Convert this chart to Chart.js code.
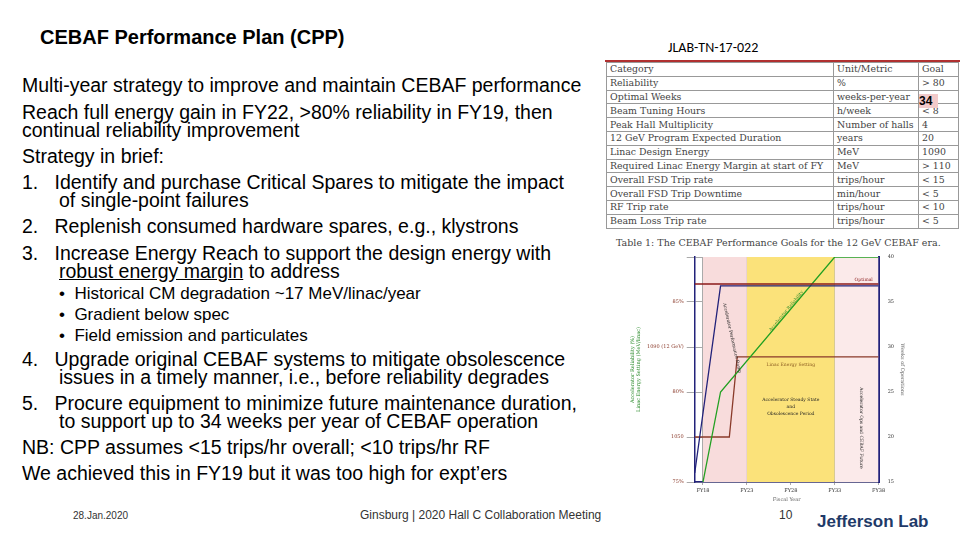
<!DOCTYPE html>
<html><head><meta charset="utf-8">
<script src="https://cdn.jsdelivr.net/npm/chart.js@4/dist/chart.umd.min.js"></script>
<style>
body{margin:0;width:960px;height:540px;background:#fff;position:relative;overflow:hidden;font-family:"Liberation Sans",Arial,sans-serif}
.a{position:absolute;white-space:nowrap}
#body div{position:absolute;white-space:nowrap;font-size:19.5px;line-height:19px;color:#000}
table{position:absolute;left:606px;top:62px;border-collapse:collapse;font-family:"DejaVu Serif",serif;font-size:9.4px;color:#444}
td{border:1px solid #999;padding:0 3px;height:12.8px;line-height:12px}
#cw{position:absolute;left:628px;top:251px;width:279px;height:252px}
</style></head><body>
<div class="a" style="left:40px;top:26px;font-size:20px;font-weight:bold">CEBAF Performance Plan (CPP)</div>
<div class="a" style="left:668px;top:39px;font-size:14px;font-family:Carlito,'Liberation Sans'">JLAB-TN-17-022</div>
<div id="body">
<div style="left:22px;top:76px">Multi-year strategy to improve and maintain CEBAF performance</div>
<div style="left:22px;top:103px">Reach full energy gain in FY22, &gt;80% reliability in FY19, then</div>
<div style="left:22px;top:121px">continual reliability improvement</div>
<div style="left:22px;top:147px">Strategy in brief:</div>
<div style="left:22px;top:173px">1.&nbsp;&nbsp; Identify and purchase Critical Spares to mitigate the impact</div>
<div style="left:59px;top:191px">of single-point failures</div>
<div style="left:22px;top:217px">2.&nbsp;&nbsp; Replenish consumed hardware spares, e.g., klystrons</div>
<div style="left:22px;top:244px">3.&nbsp;&nbsp; Increase Energy Reach to support the design energy with</div>
<div style="left:59px;top:262px"><u>robust energy margin</u> to address</div>
<div style="left:59px;top:284px;font-size:17px">•&nbsp; Historical CM degradation ~17 MeV/linac/year</div>
<div style="left:59px;top:305px;font-size:17px">•&nbsp; Gradient below spec</div>
<div style="left:59px;top:326px;font-size:17px">•&nbsp; Field emission and particulates</div>
<div style="left:22px;top:350px">4.&nbsp;&nbsp; Upgrade original CEBAF systems to mitigate obsolescence</div>
<div style="left:59px;top:368px">issues in a timely manner, i.e., before reliability degrades</div>
<div style="left:22px;top:394px">5.&nbsp;&nbsp; Procure equipment to minimize future maintenance duration,</div>
<div style="left:59px;top:412px">to support up to 34 weeks per year of CEBAF operation</div>
<div style="left:22px;top:438px">NB: CPP assumes &lt;15 trips/hr overall; &lt;10 trips/hr RF</div>
<div style="left:22px;top:464px">We achieved this in FY19 but it was too high for expt’ers</div>
</div>
<div class="a" style="left:73px;top:510px;font-size:10px;color:#333">28.Jan.2020</div>
<div class="a" style="left:360px;top:508px;font-size:12px;color:#333">Ginsburg | 2020 Hall C Collaboration Meeting</div>
<div class="a" style="left:779px;top:508px;font-size:12px;color:#333">10</div>
<div class="a" style="left:817px;top:512px;font-size:17px;font-weight:bold;color:#1f3a68">Jefferson Lab</div>
<div class="a" style="left:605px;top:60px;width:355px;height:2px;background:#b03030"></div>
<table id="tb"></table>
<div class="a" style="left:616px;top:237px;font-size:9.5px;font-family:'DejaVu Serif',serif;color:#444">Table 1: The CEBAF Performance Goals for the 12 GeV CEBAF era.</div>
<div class="a" style="left:919px;top:94px;width:19px;height:14px;background:#f2caca;font-weight:bold;font-size:12px;color:#000">34</div>
<div id="cw"><canvas id="c"></canvas></div>
<script>
const categories=["Category","Reliability","Optimal Weeks","Beam Tuning Hours","Peak Hall Multiplicity","12 GeV Program Expected Duration","Linac Design Energy","Required Linac Energy Margin at start of FY","Overall FSD Trip rate","Overall FSD Trip Downtime","RF Trip rate","Beam Loss Trip rate"];
const units=["Unit/Metric","%","weeks-per-year","h/week","Number of halls","years","MeV","MeV","trips/hour","min/hour","trips/hour","trips/hour"];
const goals=["Goal","> 80","","< 8","4","20","1090","> 110","< 15","< 5","< 10","< 5"];
const tb=document.getElementById('tb');
categories.forEach((c,i)=>{tb.innerHTML+=`<tr><td style="width:220px">${c}</td><td style="width:78px">${units[i]}</td><td style="width:33px">${goals[i].replace('<','&lt;').replace('>','&gt;')}</td></tr>`;});

const fyTicks=[18,23,28,33,38];
const weekTicks=[15,20,25,30,35,40];
const leftLabels={15:"75%",20:"1050",25:"80%",30:"1090 (12 GeV)",35:"85%"};
const band1=[{x:18,y:40},{x:23,y:40}];
const band2=[{x:23,y:40},{x:33,y:40}];
const band3=[{x:33,y:40},{x:38,y:40}];
const optimal=[{x:17.06,y:37},{x:38,y:37}];
const ramp=[{x:17.06,y:16},{x:20,y:36.8},{x:38,y:36.8}];
const reliability=[{x:18,y:15},{x:20,y:25},{x:33,y:40},{x:38,y:40}];
const energy=[{x:17.06,y:20},{x:21,y:20},{x:21.9,y:28.9},{x:38,y:28.9}];

const labels={id:'lbl',afterDatasetsDraw(ch){
 const g=ch.ctx,x=ch.scales.x,y=ch.scales.y;
 const t=(s,px,py,rot,col,sz)=>{g.save();g.translate(x.getPixelForValue(px),y.getPixelForValue(py));g.rotate(rot);g.fillStyle=col;g.font=sz+'px "DejaVu Serif"';g.textAlign='center';g.textBaseline='middle';g.fillText(s,0,0);g.restore();};
 t("Optimal",36.3,37.5,0,"#8b1a1a",4.5);
 t("Accelerator Performance Ramp",21.3,31,1.35,"#222",4.5);
 t("Accelerator Reliability",27.5,34,-0.88,"#2a8a2a",4.5);
 t("Linac Energy Setting",28,28,0,"#8a5a20",4.5);
 t("Accelerator Steady State",28,24.1,0,"#222",4.5);
 t("and",28,23.4,0,"#222",4.5);
 t("Obsolescence Period",28,22.6,0,"#222",4.5);
 t("Accelerator Ops and CEBAF Future",36,21,Math.PI/2,"#222",4.5);
}};
const band=(d,c)=>({data:d,type:'line',fill:'start',backgroundColor:c,borderWidth:0,pointRadius:0});
const ln=(d,c)=>({data:d,type:'line',fill:false,borderColor:c,borderWidth:1.3,pointRadius:0,tension:0});
new Chart(document.getElementById('c'),{type:'line',
 data:{datasets:[ln(optimal,'#8b1a1a'),ln(ramp,'#22227a'),ln(reliability,'#22a022'),ln(energy,'#8a3a2a'),band(band1,'#f8dcdc'),band(band2,'#fbe27a'),band(band3,'#fbeaea')]},
 options:{animation:false,responsive:true,maintainAspectRatio:false,plugins:{legend:{display:false},tooltip:{enabled:false}},
  layout:{padding:{top:2,right:0}},
  scales:{
   x:{type:'linear',min:17.06,max:38,afterBuildTicks:a=>{a.ticks=fyTicks.map(v=>({value:v}));},
     ticks:{callback:v=>'FY'+v,font:{size:5,family:'DejaVu Serif'},color:'#333'},
     grid:{color:'#aaa',borderDash:[1,2],drawTicks:true,tickLength:3},border:{color:'#22227a',width:1.5},
     title:{display:true,text:'Fiscal Year',font:{size:5,family:'DejaVu Serif'},padding:0}},
   y:{min:15,max:40,position:'left',afterBuildTicks:a=>{a.ticks=weekTicks.map(v=>({value:v}));},
     ticks:{callback:v=>leftLabels[v]||'',font:{size:5,family:'DejaVu Serif'},color:'#8a3a2a'},
     grid:{color:'#aaa',borderDash:[1,2]},border:{color:'#22227a',width:1.5},
     title:{display:true,text:['Accelerator Reliability (%)','Linac Energy Setting (MeV/linac)'],color:'#2a8a2a',font:{size:5,family:'DejaVu Serif'},padding:2}},
   y2:{min:15,max:40,position:'right',afterBuildTicks:a=>{a.ticks=weekTicks.map(v=>({value:v}));},
     ticks:{font:{size:5,family:'DejaVu Serif'},color:'#333'},grid:{display:false,tickLength:6},border:{color:'#22227a',width:2},
     title:{display:true,text:'Weeks of Operations',font:{size:5,family:'DejaVu Serif'},padding:2}}
  }},
 plugins:[labels]});
</script>
</body></html>
